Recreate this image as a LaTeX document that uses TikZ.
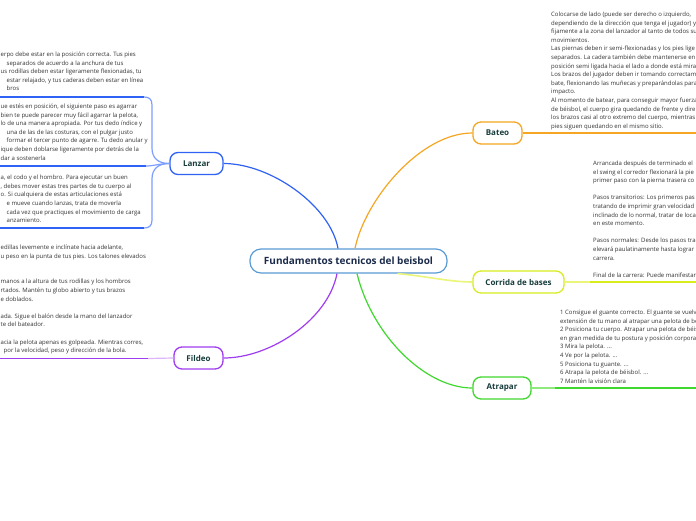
\documentclass[tikz,border=0pt]{standalone}
\usepackage{fontspec}
\setmainfont{Open Sans}
\usetikzlibrary{positioning}

\definecolor{azul}{HTML}{2F62F5}
\definecolor{azulclaro}{HTML}{7C9EFF}
\definecolor{naranja}{HTML}{F5A623}
\definecolor{amarillo}{HTML}{D8EC1E}
\definecolor{amarilloclaro}{HTML}{EAF57A}
\definecolor{verde}{HTML}{3FD82E}
\definecolor{verdeclaro}{HTML}{8FEA7E}
\definecolor{morado}{HTML}{A03CF0}
\definecolor{moradoclaro}{HTML}{DDB6F9}
\definecolor{bordecentral}{HTML}{5B9BD5}
\definecolor{tinta}{HTML}{183C3C}
\definecolor{tituloazul}{HTML}{1B2B4B}

\begin{document}
\begin{tikzpicture}[x=1pt,y=-1pt,
    central/.style={draw=bordecentral, line width=1.2pt, rounded corners=11pt, fill=white,
        minimum width=197pt, minimum height=24pt, text=tituloazul,
        font=\fontsize{10}{11}\selectfont\bfseries},
    rama/.style={draw=#1, line width=1.3pt, rounded corners=8pt, fill=white,
        minimum height=22pt, text=tinta, font=\fontsize{8}{9}\selectfont\bfseries},
    texto/.style={anchor=north west, align=left, inner sep=0pt, text=black!80,
        font=\fontsize{6}{8.6}\selectfont},
    con/.style={draw=#1, line width=1.2pt}]
    \fill[white] (0,0) rectangle (696,520);
    \clip (0,0) rectangle (696,520);

    % ramas principales
    \node[central] (fund) at (348.5,261) {Fundamentos tecnicos del beisbol};
    \node[rama=azul, minimum width=53pt] (lanzar) at (196.5,163.5) {Lanzar};
    \node[rama=naranja, minimum width=49pt] (bateo) at (497.5,133) {Bateo};
    \node[rama=amarillo, minimum width=91pt] (corrida) at (518.5,282) {Corrida de bases};
    \node[rama=verde, minimum width=58pt] (atrapar) at (502,388) {Atrapar};
    \node[rama=morado, minimum width=49pt] (fildeo) at (198.5,358) {Fildeo};

    \draw[con=azul] ([xshift=-10.5pt]fund.north) .. controls (330,205) and (270,163.5) .. (lanzar.east);
    \draw[con=naranja] ([xshift=6.5pt]fund.north) .. controls (365,200) and (420,133) .. (bateo.west);
    \draw[con=amarilloclaro, line width=1.6pt] ([xshift=-50pt]fund.south east) .. controls (425,276) and (450,282) .. (corrida.west);
    \draw[con=verde] ([xshift=8.5pt]fund.south) .. controls (372,335) and (425,388) .. (atrapar.west);
    \draw[con=morado] ([xshift=-11.5pt]fund.south) .. controls (328,320) and (270,358) .. (fildeo.east);

    % Lanzar
    \node[texto] (lanzar1) at (0.5,51.7) {erpo debe estar en la posición correcta. Tus pies\\
        \hspace*{6pt}separados de acuerdo a la anchura de tus\\
        us rodillas deben estar ligeramente flexionadas, tu\\
        \hspace*{6pt}estar relajado, y tus caderas deben estar en línea\\
        \hspace*{6pt}bros};
    \node[texto] (lanzar2) at (0.5,103.7) {ue estés en posición, el siguiente paso es agarrar\\
        bien te puede parecer muy fácil agarrar la pelota,\\
        lo de una manera apropiada. Por tus dedo índice y\\
        \hspace*{6pt}una de las de las costuras, con el pulgar justo\\
        \hspace*{6pt}formar el tercer punto de agarre. Tu dedo anular y\\
        ique deben doblarse ligeramente por detrás de la\\
        dar a sostenerla};
    \node[texto] (lanzar3) at (0.5,175) {a, el codo y el hombro. Para ejecutar un buen\\
        , debes mover estas tres partes de tu cuerpo al\\
        o. Si cualquiera de estas articulaciones está\\
        \hspace*{6pt}e mueve cuando lanzas, trata de moverla\\
        \hspace*{6pt}cada vez que practiques el movimiento de carga\\
        \hspace*{6pt}anzamiento.};
    \coordinate (l1fin) at (144,97);
    \coordinate (l2fin) at (146,166);
    \coordinate (l3fin) at (144,228);
    \draw[con=azul] (0,97) -- (l1fin);
    \draw[con=azul] (0,166) -- (l2fin);
    \draw[con=azul] (0,228) -- (l3fin);
    \draw[con=azulclaro] (lanzar.west) .. controls (158,163.5) and (152,158) .. (152,148)
        -- (152,105) .. controls (152,99) and (149,97) .. (l1fin);
    \draw[con=azulclaro] (lanzar.west) .. controls (160,163.5) and (154,166) .. (l2fin);
    \draw[con=azulclaro] (lanzar.west) .. controls (158,163.5) and (152,169) .. (152,179)
        -- (152,220) .. controls (152,226) and (149,228) .. (l3fin);

    % Fildeo
    \node[texto] (fildeo1) at (0.5,244.7) {edillas levemente e inclínate hacia adelante,\\
        u peso en la punta de tus pies. Los talones elevados\\[17.2pt]
        manos a la altura de tus rodillas y los hombros\\
        rtados. Mantén tu globo abierto y tus brazos\\
        e doblados.\\[8.6pt]
        ada. Sigue el balón desde la mano del lanzador\\
        te del bateador.\\[8.6pt]
        acia la pelota apenas es golpeada. Mientras corres,\\
        \hspace*{3pt}por la velocidad, peso y dirección de la bola.};
    \coordinate (f1fin) at (148,358.5);
    \draw[con=morado] (0,358.5) -- (f1fin);
    \draw[con=moradoclaro] (f1fin) -- (fildeo.west);

    % Bateo
    \node[texto] (bateo1) at (551,11.7) {Colocarse de lado (puede ser derecho o izquierdo,\\
        dependiendo de la dirección que tenga el jugador) y\\
        fijamente a la zona del lanzador al tanto de todos su\\
        movimientos.\\
        Las piernas deben ir semi-flexionadas y los pies lige\\
        separados. La cadera también debe mantenerse en\\
        posición semi ligada hacia el lado a donde está mira\\
        Los brazos del jugador deben ir tomando correctam\\
        bate, flexionando las muñecas y preparándolas para\\
        impacto.\\
        Al momento de batear, para conseguir mayor fuerza\\
        de béisbol, el cuerpo gira quedando de frente y dire\\
        los brazos casi al otro extremo del cuerpo, mientras\\
        pies siguen quedando en el mismo sitio.};
    \coordinate (b1fin) at (696,133);
    \draw[con=naranja] (bateo.east) -- (b1fin);

    % Corrida de bases
    \node[texto] (corrida1) at (593,160.7) {Arrancada después de terminado el\\
        el swing el corredor flexionará la pie\\
        primer paso con la pierna trasera co\\[8.6pt]
        Pasos transitorios: Los primeros pas\\
        tratando de imprimir gran velocidad\\
        inclinado de lo normal, tratar de loca\\
        en este momento.\\[8.6pt]
        Pasos normales: Desde los pasos tra\\
        elevará paulatinamente hasta lograr\\
        carrera.\\[8.6pt]
        Final de la carrera: Puede manifestar};
    \coordinate (c1ini) at (590,282);
    \coordinate (c1fin) at (696,282);
    \draw[con=amarilloclaro, line width=1.6pt] (corrida.east) -- (c1ini);
    \draw[con=amarillo, line width=1.6pt] (c1ini) -- (c1fin);

    % Atrapar
    \node[texto] (atrapar1) at (560,309.7) {1 Consigue el guante correcto. El guante se vuelv\\
        extensión de tu mano al atrapar una pelota de béi\\
        2 Posiciona tu cuerpo. Atrapar una pelota de béis\\
        en gran medida de tu postura y posición corporal\\
        3 Mira la pelota. ...\\
        4 Ve por la pelota. ...\\
        5 Posiciona tu guante. ...\\
        6 Atrapa la pelota de béisbol. ...\\
        7 Mantén la visión clara};
    \coordinate (a1ini) at (555,388);
    \coordinate (a1fin) at (696,388);
    \draw[con=verdeclaro] (atrapar.east) -- (a1ini);
    \draw[con=verde] (a1ini) -- (a1fin);
\end{tikzpicture}
\end{document}
